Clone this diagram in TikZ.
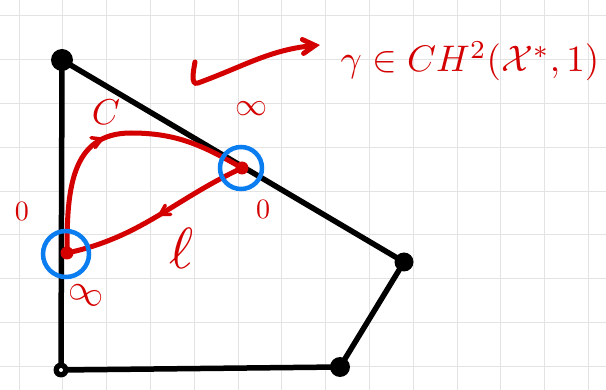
\documentclass[tikz,border=0pt]{standalone}
\usepackage{amsmath,amssymb}
\usepackage{tikz}
\usetikzlibrary{arrows, positioning, decorations.markings}
\definecolor{inkred}{RGB}{212,0,0}
\definecolor{inkblue}{RGB}{10,125,240}
\tikzset{
	gridline/.style={draw=gray!22, line width=1pt},
	edge/.style={draw=black, line width=5.5pt, line cap=round, line join=round},
	vdot/.style={circle, fill=black, inner sep=0pt, minimum size=#1},
	vdot/.default=20pt,
	pdot/.style={circle, fill=inkred, inner sep=0pt, minimum size=13pt},
	ring/.style={circle, draw=inkblue, line width=4.5pt, inner sep=0pt, minimum size=42pt},
	inkline/.style={draw=inkred, line width=5pt, line cap=round},
	inkarrow/.style={inkline, ->, >=angle 60},
	midarrow/.style={postaction={decorate}, decoration={markings,
		mark=at position #1 with {\arrow[inkred, line width=3.5pt]{angle 60}}}},
	inktext/.style={text=inkred, inner sep=0pt, scale=#1/10}
}

\begin{document}
\begin{tikzpicture}[x=1pt, y=-1pt]
	
	%% ---- Paper and grid ----
	\fill[white] (0,0) rectangle (606,390);
	\useasboundingbox (0,0) rectangle (606,390);
	\foreach \gx in {0,...,13}{
		\draw[gridline] ({19+43.8*\gx},0) -- ({19+43.8*\gx},390);
	}
	\foreach \gy in {0,...,8}{
		\draw[gridline] (0,{16+43.8*\gy}) -- (606,{16+43.8*\gy});
	}
	
	%% ---- Vertices of the region ----
	\coordinate (vtop)   at (62,60);
	\coordinate (vright) at (404,262);
	\coordinate (vbr)    at (340,367);
	\coordinate (vbl)    at (61,370);
	
	\draw[edge] (vtop) -- (vbl) -- (vbr) -- (vright) -- cycle;
	
	\node[vdot=22pt] (ntop)   at (vtop) {};
	\node[vdot=19pt] (nright) at (vright) {};
	\node[vdot=20pt] (nbr)    at (vbr) {};
	\node[vdot=15pt] (nbl)    at (vbl) {};
	\fill[white] (nbl) circle (2pt);
	
	%% ---- Points of the cycle ----
	\node[pdot] (pinf)  at (242,168) {};
	\node[pdot] (pzero) at (67,253) {};
	\coordinate (ctop) at (131,133);
	
	%% ---- Curve C and curve l ----
	\draw[inkline, midarrow=0.47] (pzero.center) to[out=90, in=180, looseness=1.15] (ctop)
		to[out=0, in=150] (pinf.center);
	\draw[inkline, midarrow=0.5] (pinf.center) to[out=205, in=12] (pzero.center);
	
	%% ---- Blue rings ----
	\node[ring] (rinf)  at (241,168) {};
	\node[ring, minimum size=46pt] (rzero) at (66,254) {};
	
	%% ---- Labels ----
	\node[inktext=36] (lC)    at (106,112) {$C$};
	\node[inktext=58] (lell)  at (182,248) {$\ell$};
	\node[inktext=32] (linfa) at (251,109) {$\infty$};
	\node[inktext=28] (lzeroa) at (263,209) {$0$};
	\node[inktext=28] (lzerob) at (22,211) {$0$};
	\node[inktext=36, rotate=-20] (linfb) at (86,295) {$\infty$};
	
	%% ---- Higher Chow class ----
	\node[inktext=37, anchor=base west] (gam) at (340,72)
		{$\gamma\in CH^{2}(\mathcal{X}^{*},1)$};
	\coordinate (gstart) at (195,62);
	\coordinate (ghook)  at (198,83);
	\coordinate (gend)   at (320,45);
	\draw[inkarrow] (gstart) to[out=-100, in=200] (ghook)
		to[out=20, in=185] (gend);
	
\end{tikzpicture}
\end{document}
